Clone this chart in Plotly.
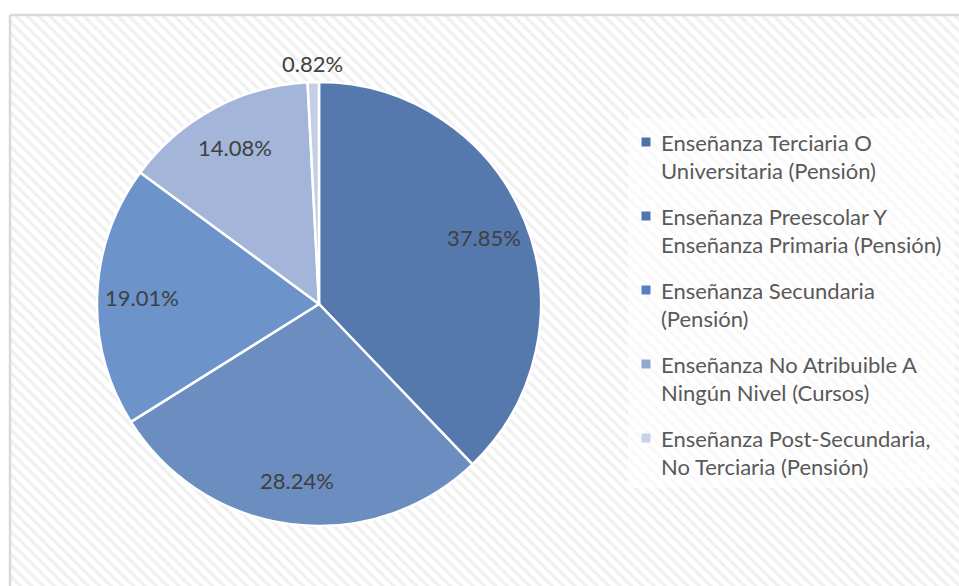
import math
import plotly.graph_objects as go

# ---- data ----
labels = [
    "Enseñanza Terciaria O<br>Universitaria (Pensión)",
    "Enseñanza Preescolar Y<br>Enseñanza Primaria (Pensión)",
    "Enseñanza Secundaria<br>(Pensión)",
    "Enseñanza No Atribuible A<br>Ningún Nivel (Cursos)",
    "Enseñanza Post-Secundaria,<br>No Terciaria (Pensión)",
]
values = [37.85, 28.24, 19.01, 14.08, 0.82]
slice_colors = ["#5679AD", "#6B8DBF", "#6C93CA", "#A3B5D8", "#C4CFE6"]
legend_colors = ["#4E70A5", "#5077AD", "#5381C0", "#93A7CF", "#C8D3E8"]
label_outside = [False, False, False, False, True]

W, H = 959, 586
FONT = "Lato"

# pie geometry (pixels)
CX, CY, R = 319, 304, 222

fig = go.Figure()

# hatched chart-area background with light border
fig.add_trace(go.Scatter(
    x=[10, 965, 965, 10, 10], y=[15, 15, 595, 595, 15],
    mode="lines", fill="toself",
    line=dict(color="#d9d9d9", width=2.5),
    fillcolor="white",
    fillpattern=dict(shape="\\", fgcolor="#e2e2e2", bgcolor="white", size=8, solidity=0.4),
    hoverinfo="skip", showlegend=False,
))

fig.add_trace(go.Pie(
    labels=labels,
    values=values,
    sort=False,
    direction="clockwise",
    rotation=0,
    marker=dict(colors=slice_colors, line=dict(color="white", width=2.5)),
    textinfo="none",
    domain=dict(x=[(CX - R) / W, (CX + R) / W], y=[(H - CY - R) / H, (H - CY + R) / H]),
    showlegend=False,
    hoverinfo="label+percent",
))

annotations = []
# data labels placed from each slice's mid-angle
total = sum(values)
cum = 0.0
for v, outside in zip(values, label_outside):
    mid = (cum + v / 2) / total * 2 * math.pi
    cum += v
    rr = R * (1.085 if outside else 0.80)
    annotations.append(dict(
        x=CX + rr * math.sin(mid), y=CY - rr * math.cos(mid), xref="x", yref="y",
        text=f"{v:.2f}%", showarrow=False, xanchor="center", yanchor="middle",
        font=dict(family=FONT, size=22, color="#404040"),
    ))

# custom legend (white translucent panel, small squares, two-line entries)
shapes = [dict(type="rect", xref="x", yref="y", x0=628, x1=955, y0=118, y1=488,
               fillcolor="rgba(255,255,255,0.6)", line=dict(width=0), layer="above")]
entry_y0, entry_step, line_step = 142, 74, 28.5
for i, (lab, col) in enumerate(zip(labels, legend_colors)):
    yc = entry_y0 + i * entry_step
    shapes.append(dict(type="rect", xref="x", yref="y", x0=641.5, x1=650.5,
                       y0=yc - 4.5, y1=yc + 4.5, fillcolor=col,
                       line=dict(width=0), layer="above"))
    for k, part in enumerate(lab.split("<br>")):
        annotations.append(dict(
            x=659, y=yc + k * line_step, xref="x", yref="y",
            text=part, showarrow=False, xanchor="left", yanchor="middle",
            font=dict(family=FONT, size=22, color="#595959"),
        ))

fig.update_layout(
    width=W, height=H,
    margin=dict(l=0, r=0, t=0, b=0),
    paper_bgcolor="white", plot_bgcolor="white",
    xaxis=dict(range=[0, W], visible=False, fixedrange=True, domain=[0, 1]),
    yaxis=dict(range=[H, 0], visible=False, fixedrange=True, domain=[0, 1]),
    shapes=shapes, annotations=annotations,
    showlegend=False,
)

fig.write_html("out.html",
               config={"displayModeBar": False},
               post_script="document.body.style.margin='0';document.body.style.overflow='hidden';")
